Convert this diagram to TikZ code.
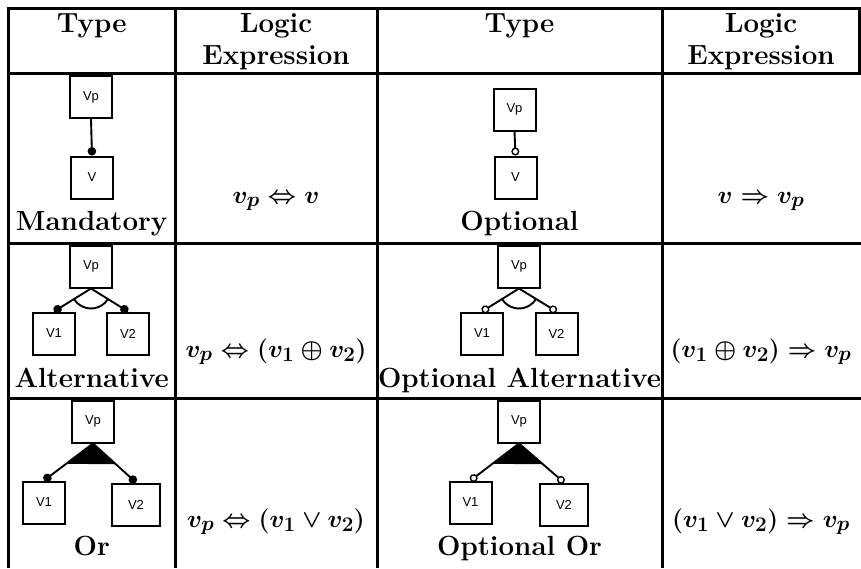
\documentclass[tikz,border=0pt]{standalone}
\usepackage{fontspec}
\newfontfamily\boxfont{Liberation Sans}
\usetikzlibrary{arrows.meta,calc,angles}
\tikzset{
  rule/.style={line width=3pt},
  fbox/.style={draw, line width=2pt, minimum width=42pt, minimum height=42pt,
    inner sep=0pt, font=\boxfont\fontsize{13}{13}\selectfont},
  widebox/.style={fbox, minimum width=48pt},
  link/.style={line width=1.9pt},
  mand/.style={link, -{Circle[length=8.5pt]}},
  opt/.style={link, -{Circle[open, length=8pt, fill=white, line width=1.4pt]}},
  hd/.style={anchor=base, inner sep=0pt, font=\bfseries\fontsize{27.7}{33}\selectfont},
  ex/.style={anchor=base, inner sep=0pt, font=\fontsize{27.7}{33}\selectfont\boldmath},
}
\begin{document}
\begin{tikzpicture}[x=1pt,y=-1pt]
\useasboundingbox (0,0) rectangle (861,568);

% table rules
\draw[rule] (7,8.5) -- (861,8.5);
\draw[rule] (7,73) -- (861,73);
\draw[rule] (7,243) -- (861,243);
\draw[rule] (7,398) -- (861,398);
\draw[rule] (8.5,7) -- (8.5,568);
\draw[rule] (175,7) -- (175,568);
\draw[rule] (377,7) -- (377,568);
\draw[rule] (662,7) -- (662,568);
\draw[rule] (859.5,7) -- (859.5,73);

% header
\node[hd] (h1) at (91.7,32) {Type};
\node[hd] (h2a) at (276,32) {Logic};
\node[hd] (h2b) at (276,64) {Expression};
\node[hd] (h3) at (519.5,32) {Type};
\node[hd] (h4a) at (761,32) {Logic};
\node[hd] (h4b) at (761,64) {Expression};

% mandatory
\node[fbox] (vpA) at (91,97) {Vp};
\node[fbox] (vA) at (92,177.5) {V};
\draw[mand] (vpA.south) -- (vA.north);
\node[hd] (tA) at (91.7,230) {Mandatory};
\node[ex] (eA) at (276,203) {$v_p \Leftrightarrow v$};

% optional
\node[fbox] (vpB) at (514.5,109.5) {Vp};
\node[fbox] (vB) at (515.5,177.5) {V};
\draw[opt] (vpB.south) -- (vB.north);
\node[hd] (tB) at (519.5,230) {Optional};
\node[ex] (eB) at (761,203) {$v \Rightarrow v_p$};

% alternative
\node[fbox] (vpC) at (91,266.5) {Vp};
\node[fbox] (v1C) at (54,333.5) {V1};
\node[fbox] (v2C) at (128,333.5) {V2};
\coordinate (aC) at (vpC.south);
\coordinate (lC) at (v1C.north);
\coordinate (rC) at (v2C.north);
\draw[mand] (aC) -- (lC);
\draw[mand] (aC) -- (rC);
\pic[draw, link, angle radius=20pt] {angle = lC--aC--rC};
\node[hd] (tC) at (91.7,387) {Alternative};
\node[ex] (eC) at (276,357) {$v_p \Leftrightarrow (v_1 \oplus v_2)$};

% optional alternative
\node[fbox] (vpD) at (519,266.5) {Vp};
\node[fbox] (v1D) at (482,333.5) {V1};
\node[fbox] (v2D) at (556.5,333.5) {V2};
\coordinate (aD) at (vpD.south);
\coordinate (lD) at (v1D.north);
\coordinate (rD) at (v2D.north);
\draw[opt] (aD) -- (lD);
\draw[opt] (aD) -- (rD);
\pic[draw, link, angle radius=20pt] {angle = lD--aD--rD};
\node[hd] (tD) at (519.5,387) {Optional Alternative};
\node[ex] (eD) at (761,357) {$(v_1 \oplus v_2) \Rightarrow v_p$};

% or
\node[fbox] (vpE) at (93,421.5) {Vp};
\node[fbox] (v1E) at (44,502.5) {V1};
\node[widebox] (v2E) at (136,504.5) {V2};
\coordinate (aE) at (vpE.south);
\coordinate (lE) at (v1E.north);
\coordinate (rE) at (v2E.north);
\fill (aE) -- ($(aE)!0.55!(lE)$) -- ($(aE)!0.53!(rE)$) -- cycle;
\draw[mand] (aE) -- (lE);
\draw[mand] (aE) -- (rE);
\node[hd] (tE) at (91.7,555) {Or};
\node[ex] (eE) at (276,527) {$v_p \Leftrightarrow (v_1 \vee v_2)$};

% optional or
\node[fbox] (vpF) at (519,421.5) {Vp};
\node[fbox] (v1F) at (470.5,502.5) {V1};
\node[widebox] (v2F) at (564,504.5) {V2};
\coordinate (aF) at (vpF.south);
\coordinate (lF) at (v1F.north);
\coordinate (rF) at (v2F.north);
\fill (aF) -- ($(aF)!0.55!(lF)$) -- ($(aF)!0.53!(rF)$) -- cycle;
\draw[opt] (aF) -- (lF);
\draw[opt] (aF) -- (rF);
\node[hd] (tF) at (519.5,555) {Optional Or};
\node[ex] (eF) at (761,527) {$(v_1 \vee v_2) \Rightarrow v_p$};
\end{tikzpicture}
\end{document}
